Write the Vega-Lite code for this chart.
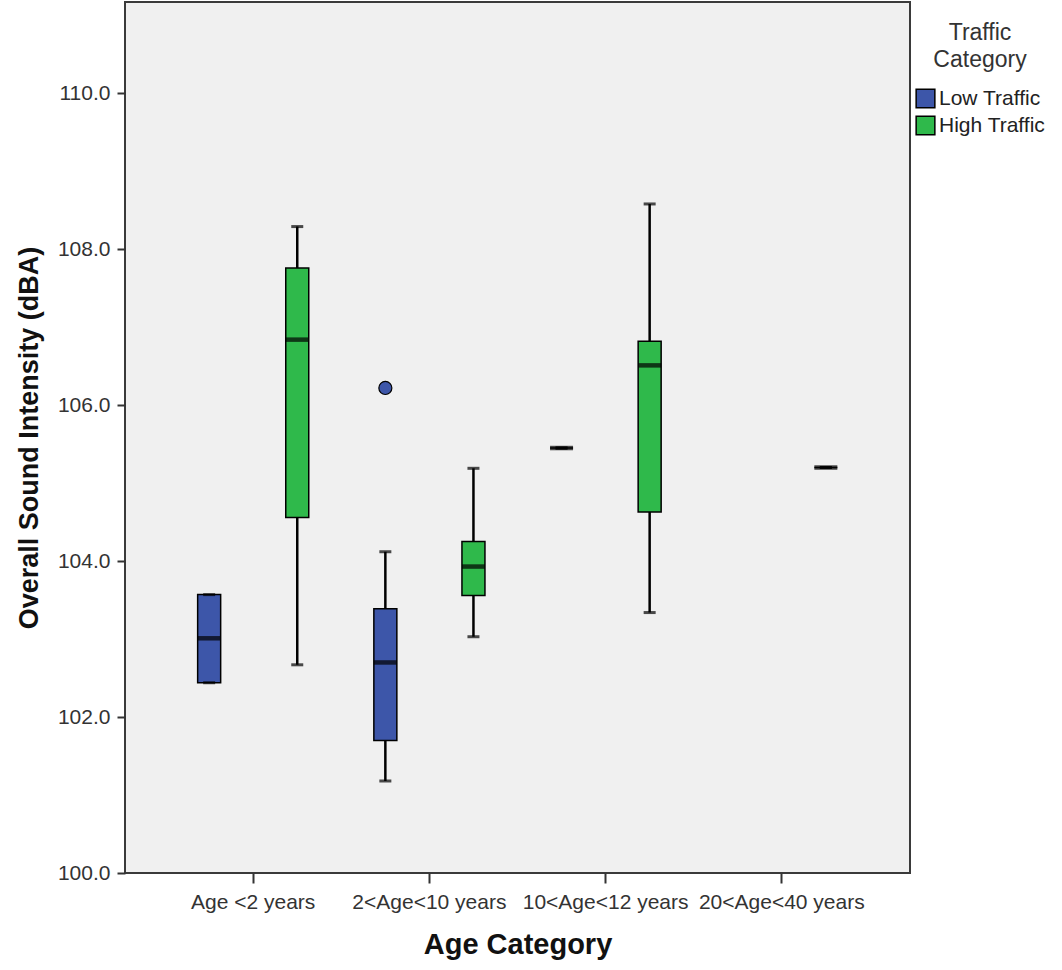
{
  "$schema": "https://vega.github.io/schema/vega-lite/v6.json",
  "width": 785,
  "height": 871,
  "autosize": {"type": "none"},
  "padding": {"left": 125, "top": 2, "right": 152, "bottom": 97},
  "background": "white",
  "config": {
    "font": "Liberation Sans",
    "view": {"fill": "#f0f0f0", "stroke": "#3a3a3a", "strokeWidth": 2},
    "axis": {"domain": false, "grid": false, "tickColor": "#333", "tickWidth": 2, "labelColor": "#333", "titleColor": "#111", "labelFont": "Liberation Sans", "titleFont": "Liberation Sans"}
  },
  "datasets": {
    "boxes": [
      {"age": "Age <2 years", "traffic": "Low Traffic", "min": 102.44, "q1": 102.44, "median": 103.01, "q3": 103.57, "max": 103.57},
      {"age": "Age <2 years", "traffic": "High Traffic", "min": 102.67, "q1": 104.56, "median": 106.84, "q3": 107.76, "max": 108.29},
      {"age": "2<Age<10 years", "traffic": "Low Traffic", "min": 101.18, "q1": 101.70, "median": 102.70, "q3": 103.39, "max": 104.12},
      {"age": "2<Age<10 years", "traffic": "High Traffic", "min": 103.03, "q1": 103.56, "median": 103.93, "q3": 104.25, "max": 105.19},
      {"age": "10<Age<12 years", "traffic": "Low Traffic", "min": 105.45, "q1": 105.45, "median": 105.45, "q3": 105.45, "max": 105.45},
      {"age": "10<Age<12 years", "traffic": "High Traffic", "min": 103.34, "q1": 104.63, "median": 106.51, "q3": 106.82, "max": 108.58},
      {"age": "20<Age<40 years", "traffic": "High Traffic", "min": 105.20, "q1": 105.20, "median": 105.20, "q3": 105.20, "max": 105.20}
    ],
    "outliers": [
      {"age": "2<Age<10 years", "traffic": "Low Traffic", "value": 106.22}
    ]
  },
  "encoding": {
    "x": {
      "field": "age", "type": "nominal",
      "sort": ["Age <2 years", "2<Age<10 years", "10<Age<12 years", "20<Age<40 years"],
      "scale": {"domain": ["Age <2 years", "2<Age<10 years", "10<Age<12 years", "20<Age<40 years"], "paddingInner": 0, "paddingOuter": 0.2276},
      "axis": {"title": "Age Category", "labelAngle": 0, "labelFontSize": 21, "tickSize": 10, "labelPadding": 8, "titleFontSize": 29, "titleFontWeight": "bold", "titlePadding": 18}
    },
    "xOffset": {
      "field": "traffic", "type": "nominal",
      "scale": {"domain": ["Low Traffic", "High Traffic"], "paddingInner": 0, "paddingOuter": 0}
    }
  },
  "layer": [
    {
      "data": {"name": "boxes"},
      "mark": {"type": "rule", "color": "black", "strokeWidth": 2.5},
      "encoding": {
        "y": {
          "field": "min", "type": "quantitative",
          "scale": {"domain": [100, 111.17], "nice": false, "zero": false},
          "axis": {"title": "Overall Sound Intensity (dBA)", "values": [100, 102, 104, 106, 108, 110], "format": ".1f", "labelFontSize": 21, "tickSize": 8, "labelPadding": 7, "titleFontSize": 27, "titleFontWeight": "bold", "titlePadding": 14}
        },
        "y2": {"field": "max"}
      }
    },
    {
      "data": {"name": "boxes"},
      "mark": {"type": "bar", "width": 23, "stroke": "black", "strokeWidth": 1.5},
      "encoding": {
        "y": {"field": "q1", "type": "quantitative"},
        "y2": {"field": "q3"},
        "color": {
          "field": "traffic", "type": "nominal",
          "scale": {"domain": ["Low Traffic", "High Traffic"], "range": ["#3d56a9", "#2fb94b"]},
          "legend": {
            "title": ["Traffic", "Category"],
            "orient": "none", "legendX": 790, "legendY": 20,
            "titleFontSize": 23, "titleFontWeight": "normal", "titleColor": "#333",
            "titleAnchor": "middle", "titleAlign": "center", "titleLineHeight": 27, "titlePadding": 16,
            "labelFontSize": 21, "labelColor": "#222", "labelOffset": 3,
            "symbolType": "square", "symbolSize": 350, "symbolStrokeColor": "black", "symbolStrokeWidth": 1.5, "symbolOpacity": 1,
            "rowPadding": 2
          }
        }
      }
    },
    {
      "data": {"name": "boxes"},
      "mark": {"type": "tick", "color": "black", "size": 12, "thickness": 3},
      "encoding": {"y": {"field": "min", "type": "quantitative"}}
    },
    {
      "data": {"name": "boxes"},
      "mark": {"type": "tick", "color": "black", "size": 12, "thickness": 3},
      "encoding": {"y": {"field": "max", "type": "quantitative"}}
    },
    {
      "data": {"name": "boxes"},
      "mark": {"type": "tick", "color": "black", "size": 23, "thickness": 4.5},
      "encoding": {"y": {"field": "median", "type": "quantitative"}}
    },
    {
      "data": {"name": "outliers"},
      "mark": {"type": "point", "shape": "circle", "filled": true, "size": 170, "stroke": "black", "strokeWidth": 1.2, "opacity": 1},
      "encoding": {
        "y": {"field": "value", "type": "quantitative"},
        "fill": {"value": "#3d56a9"}
      }
    }
  ]
}
